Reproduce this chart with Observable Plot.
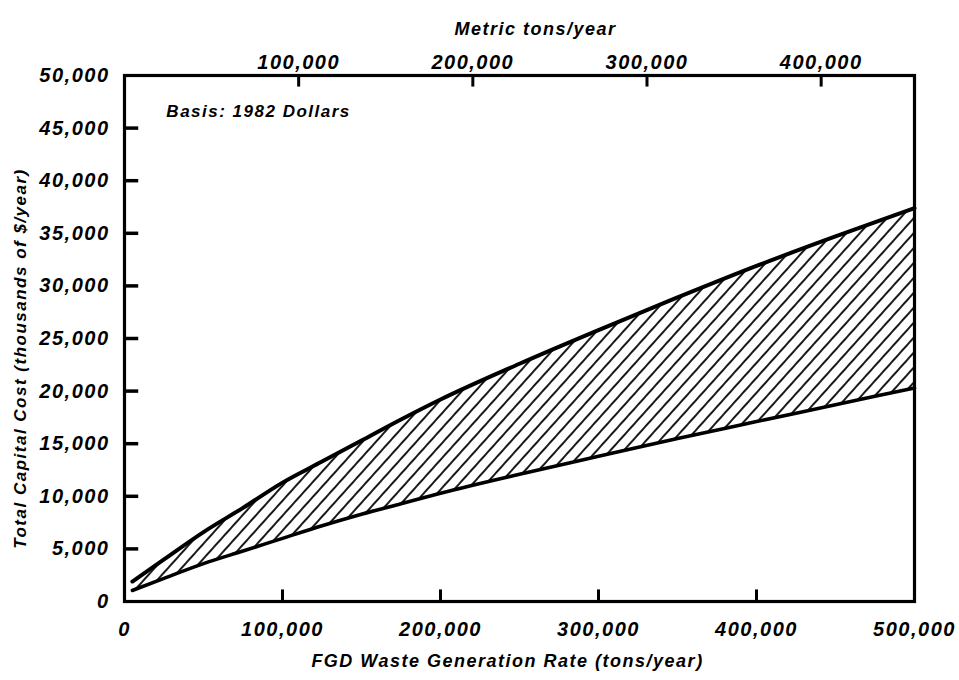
<!DOCTYPE html>
<html>
<head>
<meta charset="utf-8">
<script src="https://cdn.jsdelivr.net/npm/d3@7"></script>
<script src="https://cdn.jsdelivr.net/npm/@observablehq/plot@0.6"></script>
<style>
  html, body { margin: 0; padding: 0; background: #fff; }
</style>
</head>
<body>
<div id="chart"></div>
<script>
// FGD waste generation rate (short tons/year)
const rate = [5000, 25000, 50000, 75000, 100000, 125000, 150000, 175000, 200000, 250000, 300000, 350000, 400000, 450000, 500000];
// Total capital cost, thousands of $/year
const upperCost = [1900, 4000, 6600, 8900, 11300, 13300, 15300, 17300, 19200, 22600, 25800, 28900, 31900, 34700, 37400];
const lowerCost = [1050, 2200, 3600, 4800, 6000, 7200, 8300, 9300, 10300, 12100, 13800, 15500, 17100, 18700, 20300];

const xTicksBottom = [0, 100000, 200000, 300000, 400000, 500000];
const xTickMarks = [100000, 200000, 300000, 400000];
const yTicks = [0, 5000, 10000, 15000, 20000, 25000, 30000, 35000, 40000, 45000, 50000];
const yTickMarks = [5000, 10000, 15000, 20000, 25000, 30000, 35000, 40000, 45000];
const metricTicks = [100000, 200000, 300000, 400000];
const shortTonsPerMetricTon = 1.10231;

const titleX = "FGD Waste Generation Rate (tons/year)";
const titleTop = "Metric tons/year";
const titleY = "Total Capital Cost (thousands of $/year)";
const note = {x: 26500, y: 46600, text: "Basis: 1982 Dollars"};

const band = rate.map((r, i) => ({rate: r, lo: lowerCost[i], hi: upperCost[i]}));
const fmt = d3.format(",");
const font = "'Liberation Sans', Arial, sans-serif";
const metricPos = metricTicks.map(m => m * shortTonsPerMetricTon);

const chart = Plot.plot({
  width: 959,
  height: 680,
  marginLeft: 124,
  marginRight: 45,
  marginTop: 75,
  marginBottom: 79,
  style: {fontFamily: font, fontStyle: "italic", fontWeight: "bold", color: "#000", background: "#fff", letterSpacing: "1.5px"},
  x: {domain: [0, 500000]},
  y: {domain: [0, 50000]},
  marks: [
    Plot.areaY(band, {x: "rate", y1: "lo", y2: "hi", fill: "url(#hatch)"}),
    Plot.line(band, {x: "rate", y: "hi", stroke: "black", strokeWidth: 4, curve: "monotone-x"}),
    Plot.line(band, {x: "rate", y: "lo", stroke: "black", strokeWidth: 3.6, curve: "monotone-x"}),
    // tick labels
    Plot.axisX({anchor: "bottom", ticks: xTicksBottom, tickSize: 0, tickPadding: 20, tickFormat: fmt, fontSize: 20, fill: "black", label: null}),
    Plot.axisX({anchor: "top", ticks: metricPos, tickSize: 0, tickPadding: 7,
      tickFormat: d => fmt(Math.round(d / shortTonsPerMetricTon)), fontSize: 20, fill: "black", label: null}),
    Plot.axisY({anchor: "left", ticks: yTicks, tickSize: 0, tickPadding: 15, tickFormat: fmt, fontSize: 20, fill: "black", label: null}),
    Plot.frame({stroke: "black", strokeWidth: 3.2}),
    Plot.text([note], {x: "x", y: "y", text: "text", textAnchor: "start", lineAnchor: "middle", fontSize: 17, fill: "black"}),
    Plot.text([titleX], {frameAnchor: "bottom", textAnchor: "middle", dy: 65, dx: -12, fontSize: 18, fill: "black"}),
    Plot.text([titleTop], {frameAnchor: "top", textAnchor: "middle", dy: -53, dx: 16, fontSize: 18, fill: "black"}),
    Plot.text([titleY], {frameAnchor: "left", textAnchor: "middle", rotate: -90, dx: -104, dy: 20, fontSize: 17, fill: "black"}),
    // inward tick marks as short rules
    Plot.ruleX(xTickMarks, {x: d => d, y1: 0, y2: 1100, stroke: "black", strokeWidth: 3}),
    Plot.ruleX(metricPos, {x: d => d, y1: 50000, y2: 48900, stroke: "black", strokeWidth: 3}),
    Plot.ruleY(yTickMarks, {y: d => d, x1: 0, x2: 9000, stroke: "black", strokeWidth: 3.5})
  ]
});

// hatch pattern definition for the band
const ns = "http://www.w3.org/2000/svg";
const defs = document.createElementNS(ns, "defs");
const pat = document.createElementNS(ns, "pattern");
pat.setAttribute("id", "hatch");
pat.setAttribute("patternUnits", "userSpaceOnUse");
pat.setAttribute("width", "10");
pat.setAttribute("height", "10");
pat.setAttribute("patternTransform", "rotate(42)");
const ln = document.createElementNS(ns, "line");
ln.setAttribute("x1", "5"); ln.setAttribute("x2", "5");
ln.setAttribute("y1", "-1"); ln.setAttribute("y2", "11");
ln.setAttribute("stroke", "black"); ln.setAttribute("stroke-width", "1.8");
pat.appendChild(ln);
defs.appendChild(pat);
chart.appendChild(defs);

document.getElementById("chart").appendChild(chart);
</script>
</body>
</html>
